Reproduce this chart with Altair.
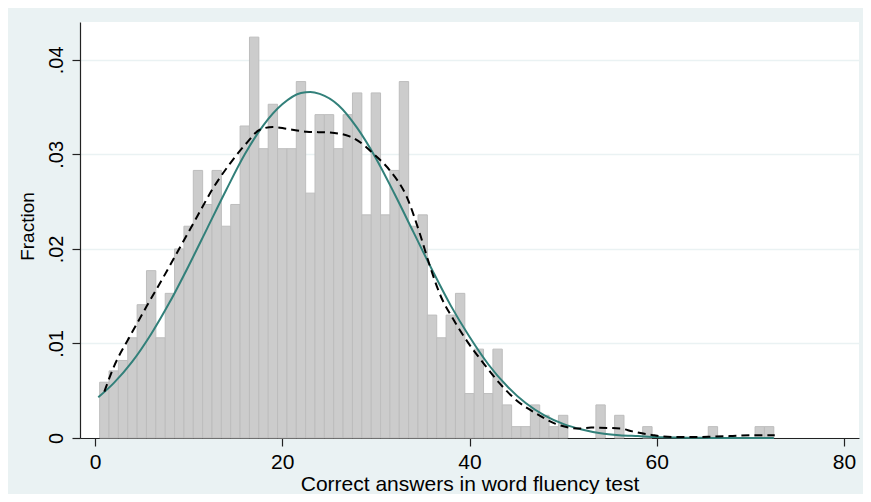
import altair as alt
import pandas as pd

# ---- data ----
scores = list(range(1, 73))
fractions = [
    0.0059, 0.0071, 0.0082, 0.0106, 0.0141, 0.0177, 0.0106, 0.0153, 0.0200, 0.0224,
    0.0283, 0.0247, 0.0283, 0.0224, 0.0247, 0.0330, 0.0424, 0.0306, 0.0353, 0.0306,
    0.0306, 0.0377, 0.0259, 0.0342, 0.0342, 0.0306, 0.0342, 0.0365, 0.0236, 0.0365,
    0.0236, 0.0283, 0.0377, 0.0224, 0.0236, 0.0130, 0.0106, 0.0130, 0.0153, 0.0047,
    0.0094, 0.0047, 0.0094, 0.0035, 0.0012, 0.0012, 0.0035, 0.0024, 0.0012, 0.0024,
    0.0, 0.0, 0.0, 0.0035, 0.0, 0.0024, 0.0, 0.0, 0.0012, 0.0,
    0.0, 0.0, 0.0, 0.0, 0.0, 0.0012, 0.0, 0.0, 0.0, 0.0,
    0.0012, 0.0012,
]

normal_x = [0.35, 2, 4, 6, 8, 10, 12, 14, 16, 18, 20, 22, 23, 24, 26, 28, 30, 32, 34,
            36, 38, 40, 42, 44, 46, 48, 50, 52, 54, 56, 58, 60, 62, 64, 66, 68, 70, 72.5]
normal_y = [0.0043, 0.0058, 0.0081, 0.0110, 0.0144, 0.0182, 0.0222, 0.0262, 0.0300,
            0.0331, 0.0353, 0.0365, 0.0366, 0.0364, 0.0352, 0.0328, 0.0296, 0.0258,
            0.0218, 0.0178, 0.0140, 0.0107, 0.0078, 0.0055, 0.0037, 0.0024, 0.0015,
            0.0009, 0.0005, 0.0003, 0.0002, 0.0001, 0.00005, 0.00003, 0.00001, 0.0,
            0.0, 0.0]

kernel_x = [1.0, 2.0, 3.7, 5.5, 7.3, 9.1, 10.9, 12.6, 14.4, 16.2, 17.6, 19.0, 20.5,
            22.6, 25.1, 27.2, 28.7, 29.7, 31.5, 33.3, 34.7, 35.8, 36.8, 38.3, 39.7,
            41.5, 43.2, 45.0, 47.1, 49.2, 51.8, 53.0, 56.1, 57.4, 59.6, 61.7, 63.9,
            66.0, 67.8, 70.0, 72.6]
kernel_y = [0.0049, 0.0075, 0.0107, 0.0139, 0.0170, 0.0202, 0.0234, 0.0264, 0.0290,
            0.0312, 0.0326, 0.0329, 0.0327, 0.0324, 0.0323, 0.0319, 0.0310, 0.0301,
            0.0283, 0.0255, 0.0216, 0.0181, 0.0153, 0.0125, 0.0103, 0.0079, 0.0058,
            0.0040, 0.0026, 0.0015, 0.0010, 0.0011, 0.0010, 0.0007, 0.0003, 0.0001,
            0.0001, 0.00015, 0.0002, 0.0003, 0.0003]

x_ticks = [0, 20, 40, 60, 80]
y_ticks = [0, 0.01, 0.02, 0.03, 0.04]

x_title = "Correct answers in word fluency test"
y_title = "Fraction"

# ---- tables ----
hist = pd.DataFrame({"score": scores, "frac": fractions})
hist = hist[hist["frac"] > 0].copy()
hist["x0"] = hist["score"] - 0.5
hist["x1"] = hist["score"] + 0.5
hist["base"] = 0.0
normal = pd.DataFrame({"x": normal_x, "y": normal_y})
kernel = pd.DataFrame({"x": kernel_x, "y": kernel_y})

FONT = "Liberation Sans"

x_scale = alt.Scale(domain=[-1.6, 81.6], nice=False, zero=False)
y_scale = alt.Scale(domain=[0, 0.044], nice=False, zero=True)

x_axis = alt.Axis(
    values=x_ticks, format="d", title=x_title, grid=False,
    tickSize=8, tickColor="#222222", tickWidth=1.2,
    domainColor="#222222", domainWidth=1.2,
    labelFont=FONT, labelFontSize=21, labelColor="#000000",
    labelBaseline="alphabetic", labelPadding=22, labelFlush=False,
    titleFont=FONT, titleFontSize=21, titleFontWeight="normal", titleColor="#000000",
    titleBaseline="alphabetic", titleY=52,
)
y_axis = alt.Axis(
    values=y_ticks, title=y_title, grid=True, gridColor="#EAF2F3", gridWidth=1.5,
    labelExpr="datum.value == 0 ? '0' : substring(format(datum.value, '.2f'), 1)",
    tickSize=8, tickColor="#222222", tickWidth=1.2,
    domainColor="#222222", domainWidth=1.2,
    labelFont=FONT, labelFontSize=20, labelColor="#000000",
    labelAngle=270, labelAlign="center", labelBaseline="alphabetic",
    labelPadding=10, labelFlush=False, labelOverlap=False,
    titleFont=FONT, titleFontSize=19, titleFontWeight="normal", titleColor="#000000",
    titleAngle=270, titleAlign="center", titleBaseline="alphabetic",
    titleX=-47, titleY=204,
)

bars = alt.Chart(hist).mark_rect(
    fill="#CCCCCC", stroke="#BDBDBD", strokeWidth=1
).encode(
    x=alt.X("x0:Q", scale=x_scale, axis=x_axis),
    x2="x1:Q",
    y=alt.Y("frac:Q", scale=y_scale, axis=y_axis),
    y2="base:Q",
)

normal_line = alt.Chart(normal).mark_line(
    color="#32807A", strokeWidth=2, interpolate="monotone"
).encode(
    x=alt.X("x:Q", scale=x_scale, axis=x_axis),
    y=alt.Y("y:Q", scale=y_scale, axis=y_axis),
)

kernel_line = alt.Chart(kernel).mark_line(
    color="#000000", strokeWidth=2, strokeDash=[8, 5], interpolate="monotone"
).encode(
    x=alt.X("x:Q", scale=x_scale, axis=x_axis),
    y=alt.Y("y:Q", scale=y_scale, axis=y_axis),
)

chart = alt.layer(bars, normal_line, kernel_line).properties(
    width=779, height=416,
    padding={"left": 72, "top": 14, "right": 4, "bottom": 56},
    autosize=alt.AutoSizeParams(type="none"),
).configure(
    background="#EAF2F3",
).configure_view(
    fill="white", stroke=None,
)

chart.save("out.html", embed_options={"renderer": "svg", "actions": False})
